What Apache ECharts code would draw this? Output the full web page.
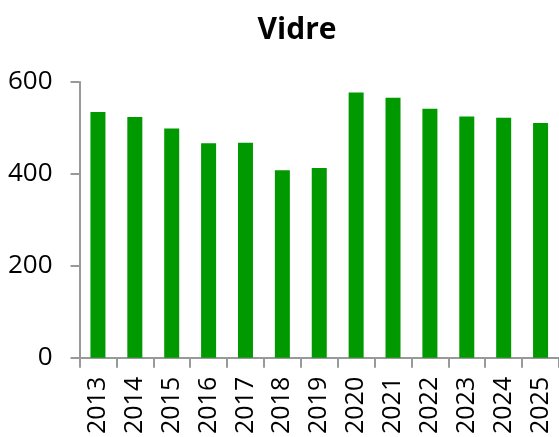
<!DOCTYPE html>
<html>
<head>
<meta charset="utf-8">
<script src="https://cdn.jsdelivr.net/npm/echarts@6/dist/echarts.min.js"></script>
<style>
  html, body { margin: 0; padding: 0; background: #fff; }
  #chart { width: 559px; height: 437px; }
</style>
</head>
<body>
<div id="chart"></div>
<script>
// Vidre per år
let years = ["2013", "2014", "2015", "2016", "2017", "2018", "2019", "2020", "2021", "2022", "2023", "2024", "2025"];
let values = [535, 524, 499, 467, 468, 408, 413, 577, 566, 542, 525, 522, 511];
let yTicks = [0, 200, 400, 600];

let dom = echarts.init(document.getElementById("chart"));
dom.setOption({
  animation: false,
  color: ["#009900"],
  textStyle: { fontFamily: "Open Sans" },
  title: {
    text: "Vidre",
    left: 292,
    top: 10,
    textAlign: "center",
    textStyle: { fontSize: 30, fontWeight: "bold", color: "#000", fontFamily: "Open Sans" }
  },
  grid: {
    left: 79.5,
    right: -6,
    top: 82,
    bottom: 78.5,
    containLabel: false
  },
  xAxis: [{
    type: "category",
    data: years,
    axisLine: { lineStyle: { color: "#999", width: 2 } },
    axisTick: { show: true, length: 10, lineStyle: { color: "#999", width: 2 } },
    axisLabel: { rotate: 90, fontSize: 25, color: "#000", margin: 19, interval: 0 }
  }],
  yAxis: [{
    type: "value",
    min: yTicks[0],
    max: yTicks[yTicks.length - 1],
    interval: yTicks[1] - yTicks[0],
    splitLine: { show: false },
    axisLine: { show: true, lineStyle: { color: "#999", width: 2 } },
    axisTick: { show: true, length: 9, lineStyle: { color: "#999", width: 2 } },
    axisLabel: { fontSize: 26, color: "#000", margin: 27 }
  }],
  series: [{
    name: "Vidre",
    type: "bar",
    barWidth: 15,
    data: values
  }]
});
</script>
</body>
</html>
